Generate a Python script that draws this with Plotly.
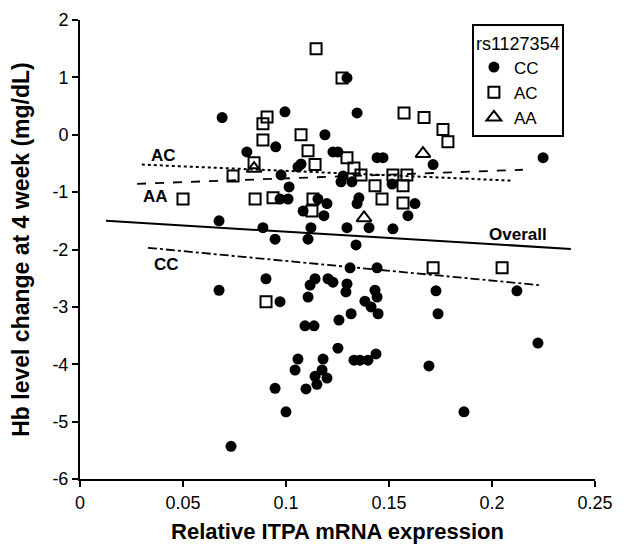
import plotly.graph_objects as go

# ---- data ----
cc_x = [0.069, 0.0995, 0.081, 0.095, 0.1058, 0.1073, 0.0976, 0.1015, 0.0971, 0.1010,
        0.1083, 0.0675, 0.0888, 0.1121, 0.0947, 0.1107, 0.0903, 0.1141, 0.1296, 0.1345,
        0.1714, 0.2248, 0.1189, 0.1228, 0.1252, 0.1277, 0.1267, 0.1320, 0.1442, 0.1471,
        0.1515, 0.1626, 0.1592, 0.1354, 0.1345, 0.1403, 0.1296, 0.1519, 0.1340, 0.1155,
        0.1199, 0.1184, 0.1311, 0.1442, 0.1728, 0.1738, 0.2121, 0.2223, 0.1694, 0.1864,
        0.1296, 0.1291, 0.1432, 0.1442, 0.1383, 0.1413, 0.1447, 0.1316, 0.1257, 0.1252,
        0.1330, 0.1359, 0.1398, 0.1437, 0.0675, 0.0971, 0.1107, 0.1117, 0.1204, 0.1228,
        0.1092, 0.1136, 0.1058, 0.1180, 0.1044, 0.1141, 0.1175, 0.1199, 0.1150, 0.0947,
        0.1097, 0.1000, 0.0733]
cc_y = [0.30, 0.40, -0.30, -0.21, -0.56, -0.51, -0.70, -0.91, -1.12, -1.12,
        -1.33, -1.50, -1.62, -1.62, -1.82, -1.82, -2.51, -2.51, 0.99, 0.38,
        -0.52, -0.40, 0.00, -0.30, -0.30, -0.72, -0.82, -0.82, -0.40, -0.40,
        -0.86, -1.20, -1.41, -1.10, -1.20, -1.62, -1.62, -1.64, -1.92, -1.12,
        -1.20, -1.41, -2.32, -2.32, -2.72, -3.12, -2.72, -3.63, -4.03, -4.83,
        -2.60, -2.74, -2.71, -2.83, -2.90, -3.00, -3.12, -3.12, -3.23, -3.72,
        -3.93, -3.93, -3.93, -3.82, -2.71, -2.91, -2.83, -2.62, -2.51, -2.57,
        -3.33, -3.33, -3.91, -3.91, -4.10, -4.21, -4.10, -4.24, -4.35, -4.42,
        -4.43, -4.83, -5.43]

ac_x = [0.0908, 0.0888, 0.0888, 0.1073, 0.1107, 0.1141, 0.0845, 0.0743, 0.0500, 0.0850,
        0.0937, 0.1131, 0.1126, 0.1146, 0.1272, 0.1573, 0.1670, 0.1762, 0.1786, 0.1296,
        0.1330, 0.1364, 0.1519, 0.1587, 0.1568, 0.1432, 0.1466, 0.1568, 0.1714, 0.2049,
        0.0903]
ac_y = [0.31, 0.19, -0.09, 0.00, -0.28, -0.52, -0.49, -0.72, -1.12, -1.12,
        -1.10, -1.12, -1.33, 1.50, 0.99, 0.38, 0.30, 0.09, -0.12, -0.40,
        -0.58, -0.70, -0.70, -0.70, -0.89, -0.89, -1.12, -1.19, -2.32, -2.32,
        -2.91]

aa_x = [0.0845, 0.1665, 0.1379]
aa_y = [-0.59, -0.33, -1.45]

# regression lines: [x_start, x_end], [y_start, y_end]
fit_overall_x = [0.0126, 0.2383]
fit_overall_y = [-1.50, -1.99]
fit_ac_x = [0.030, 0.210]
fit_ac_y = [-0.52, -0.80]
fit_aa_x = [0.0277, 0.215]
fit_aa_y = [-0.855, -0.61]
fit_cc_x = [0.033, 0.2228]
fit_cc_y = [-1.97, -2.62]

x_ticks = [0, 0.05, 0.1, 0.15, 0.2, 0.25]
x_tick_text = ["0", "0.05", "0.1", "0.15", "0.2", "0.25"]
y_ticks = [2, 1, 0, -1, -2, -3, -4, -5, -6]
y_tick_text = ["2", "1", "0", "-1", "-2", "-3", "-4", "-5", "-6"]

FONT = "Liberation Sans, Arial, Helvetica, sans-serif"

fig = go.Figure()

# fit lines (no legend)
for fx, fy, dash, w in [(fit_overall_x, fit_overall_y, "solid", 2),
                        (fit_ac_x, fit_ac_y, "dot", 2),
                        (fit_aa_x, fit_aa_y, "dash", 1.8),
                        (fit_cc_x, fit_cc_y, "dashdot", 1.8)]:
    fig.add_trace(go.Scatter(x=fx, y=fy, mode="lines", showlegend=False,
                             line=dict(color="black", width=w, dash=dash),
                             hoverinfo="skip"))

fig.add_trace(go.Scatter(x=cc_x, y=cc_y, mode="markers", name="CC",
                         marker=dict(symbol="circle", size=11, color="black",
                                     line=dict(width=0))))
fig.add_trace(go.Scatter(x=ac_x, y=ac_y, mode="markers", name="AC",
                         marker=dict(symbol="square-open", size=11, color="black",
                                     line=dict(width=2, color="black"))))
fig.add_trace(go.Scatter(x=aa_x, y=aa_y, mode="markers", name="AA",
                         marker=dict(symbol="triangle-up-open", size=13, color="black",
                                     line=dict(width=2, color="black"))))

# line labels
for txt, xx, yy in [("AC", 0.0405, -0.37), ("AA", 0.0365, -1.08),
                    ("CC", 0.042, -2.26), ("Overall", 0.2125, -1.74)]:
    fig.add_annotation(x=xx, y=yy, text="<b>%s</b>" % txt, showarrow=False,
                       font=dict(family=FONT, size=17, color="black"))

fig.update_layout(
    width=624, height=544,
    margin=dict(l=80, r=29, t=20, b=65),
    paper_bgcolor="white", plot_bgcolor="white",
    font=dict(family=FONT, color="black"),
    legend=dict(
        x=0.761, y=0.991, xanchor="left", yanchor="top",
        bordercolor="black", borderwidth=2, bgcolor="white",
        title=dict(text="rs1127354", font=dict(size=18, family=FONT)),
        font=dict(size=17, family=FONT),
        tracegroupgap=0, itemwidth=30,
    ),
    xaxis=dict(
        range=[0, 0.25], tickvals=x_ticks, ticktext=x_tick_text,
        showline=True, linecolor="black", linewidth=2, mirror=False,
        ticks="outside", ticklen=6, tickwidth=2, tickcolor="black",
        showgrid=False, zeroline=False, automargin=False,
        tickfont=dict(size=18, family=FONT),
        title=dict(text="<b>Relative ITPA mRNA expression</b>",
                   font=dict(size=22, family=FONT), standoff=18),
    ),
    yaxis=dict(
        range=[-6, 2], tickvals=y_ticks, ticktext=y_tick_text,
        showline=True, linecolor="black", linewidth=2, mirror=False,
        ticks="outside", ticklen=6, tickwidth=2, tickcolor="black",
        showgrid=False, zeroline=False, automargin=False,
        tickfont=dict(size=18, family=FONT),
        title=dict(text="<b>Hb level change at 4 week (mg/dL)</b>",
                   font=dict(size=23, family=FONT), standoff=16),
    ),
)

fig.write_html("out.html")
